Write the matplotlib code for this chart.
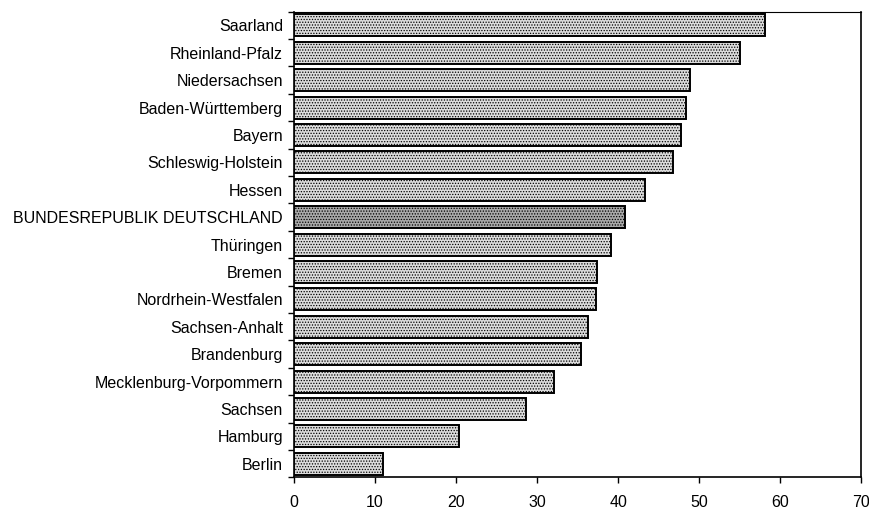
# Horizontal bar chart of the German Länder.

import numpy as np
import matplotlib
matplotlib.use('Agg')
import matplotlib.pyplot as plt

# Data, top to bottom as in the chart.
states = ['Saarland', 'Rheinland-Pfalz', 'Niedersachsen', 'Baden-Württemberg', 'Bayern',
          'Schleswig-Holstein', 'Hessen', 'BUNDESREPUBLIK DEUTSCHLAND', 'Thüringen', 'Bremen',
          'Nordrhein-Westfalen', 'Sachsen-Anhalt', 'Brandenburg', 'Mecklenburg-Vorpommern',
          'Sachsen', 'Hamburg', 'Berlin']
values = [58.1, 55.0, 48.9, 48.4, 47.7, 46.8, 43.3, 40.9, 39.1, 37.4, 37.3, 36.3, 35.4,
          32.1, 28.6, 20.3, 11.0]
x_ticks = [0, 10, 20, 30, 40, 50, 60, 70]

plt.rcParams['font.family'] = ['Liberation Sans', 'DejaVu Sans']
plt.rcParams['hatch.color'] = '#7a7a7a'
plt.rcParams['hatch.linewidth'] = 0.6

fig = plt.figure(figsize=(8.7, 5.09), dpi=100)
ax = fig.add_subplot(1, 1, 1)

ypos = np.arange(len(states))
colors = ['#a9a9a9' if s.startswith('BUNDES') else '#dcdcdc' for s in states]
bars = ax.barh(ypos, values, height=0.8, color=colors, edgecolor='black',
               linewidth=1.4, hatch='......', zorder=3)

ax.set_ylim(len(states) - 0.5, -0.5)
ax.set_xlim(0, 70)

# Category labels at bar centres, little ticks between the bars.
ax.set_yticks(ypos)
ax.set_yticklabels(states, fontsize=11.5)
ax.set_yticks(np.arange(-0.5, len(states), 1), minor=True)
ax.tick_params(axis='y', which='major', length=0, pad=8)
ax.tick_params(axis='y', which='minor', length=4, width=1, direction='out')

ax.set_xticks(x_ticks)
ax.tick_params(axis='x', length=4, width=1, pad=8.5, labelsize=11.5)

for side in ['left', 'bottom', 'right', 'top']:
    ax.spines[side].set_linewidth(1.2)
ax.spines['top'].set_linewidth(0.8)

plt.subplots_adjust(left=0.338, right=0.99, top=0.977, bottom=0.062)

fig.savefig('out.png', dpi=100, facecolor='white')
